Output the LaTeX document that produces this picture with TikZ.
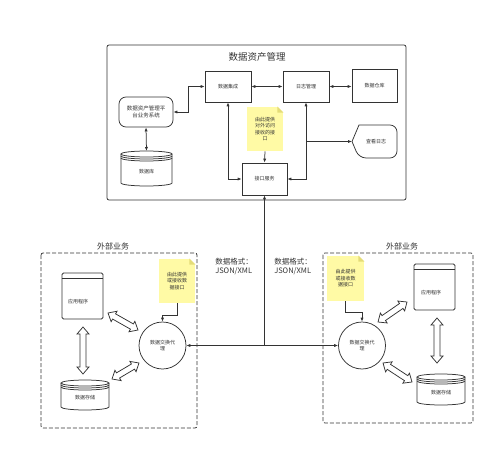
\documentclass[tikz,border=0pt]{standalone}
\usepackage{fontspec}
\setmainfont{Noto Sans CJK SC}
\usetikzlibrary{arrows.meta,calc}
\definecolor{ink}{RGB}{51,51,51}
\definecolor{notefill}{RGB}{255,250,165}
\definecolor{notefold}{RGB}{228,220,120}

% stacked disk: name, centre x, top y, half width, height, text
\newcommand\diskstack[6]{%
  \draw[fill=white] (#2-#4,#3) -- (#2-#4,#3+#5)
    arc[start angle=180,end angle=360,x radius=#4pt,y radius=3pt] -- (#2+#4,#3);
  \draw[fill=white] (#2,#3) ellipse[x radius=#4pt,y radius=3pt];
  \foreach \k in {2,4}
    \draw (#2-#4,#3+\k) arc[start angle=180,end angle=360,x radius=#4pt,y radius=3pt];
  \coordinate (#1-top) at (#2,#3-3);
  \node[lbl] (#1) at (#2,#3+#5/2+3) {#6};}

% hollow double arrow between two named points
\newcommand\fatarrow[2]{%
  \draw[fill=white] let \p1=(#1), \p2=(#2), \n1={atan2(\y2-\y1,\x2-\x1)} in
    (\p1) -- ($(\p1)+(\n1:7pt)+(\n1+90:6pt)$) -- ($(\p1)+(\n1:7pt)+(\n1+90:3pt)$)
    -- ($(\p2)+(\n1:-7pt)+(\n1+90:3pt)$) -- ($(\p2)+(\n1:-7pt)+(\n1+90:6pt)$) -- (\p2)
    -- ($(\p2)+(\n1:-7pt)+(\n1-90:6pt)$) -- ($(\p2)+(\n1:-7pt)+(\n1-90:3pt)$)
    -- ($(\p1)+(\n1:7pt)+(\n1-90:3pt)$) -- ($(\p1)+(\n1:7pt)+(\n1-90:6pt)$) -- cycle;}

% folded corner of a note
\newcommand\notefold[1]{%
  \fill[white] (#1.north east) -- ++(-6,0) -- ++(6,6) -- cycle;
  \fill[notefold] ($(#1.north east)+(-6,0)$) -- ++(0,6) -- ++(6,0) -- cycle;}

\begin{document}
\begin{tikzpicture}[x=1pt,y=-1pt,color=ink,line width=0.75pt,
  >={Latex[length=4pt,width=3.2pt]},
  lbl/.style={font=\fontsize{5}{6.5}\selectfont,align=center,inner sep=0pt},
  box/.style={draw,fill=white,minimum width=46pt,minimum height=31pt,
    font=\fontsize{5}{6.5}\selectfont,align=center},
  note/.style={fill=notefill,align=center,inner sep=0pt,
    font=\fontsize{5}{6.5}\selectfont},
  agent/.style={draw,circle,minimum size=47pt,inner sep=0pt,align=center,
    font=\fontsize{5}{6.5}\selectfont},
  zone/.style={draw,dash pattern=on 4pt off 2pt,rounded corners=2pt},
  fmt/.style={font=\fontsize{7.5}{9}\selectfont,align=left,inner sep=0pt},
  head/.style={font=\fontsize{8}{9}\selectfont}]
\useasboundingbox (0,0) rectangle (500,457);

% core system
\draw[rounded corners=2pt] (107,45) rectangle (406,200);
\node[font=\fontsize{9.5}{11}\selectfont] (title) at (257,57) {数据资产管理};
\node[box] (jicheng) at (228,86.5) {数据集成};
\node[box] (rizhi) at (306,86.5) {日志管理};
\node[box,minimum width=45pt,minimum height=33pt] (cangku) at (374.5,85.5) {数据仓库};
\node[box,rounded corners=7pt,minimum width=54pt,minimum height=30pt,
  font=\fontsize{5.5}{7}\selectfont] (pingtai) at (146,112) {数据资产管理平\\台业务系统};
\diskstack{db}{146.5}{154}{25.5}{29}{数据库}
\node[note,minimum width=36pt,minimum height=44pt] (memo) at (265,129) {由此提供\\对外访问\\接收的接\\口};
\notefold{memo}
\node[box,minimum width=45pt,minimum height=32pt] (jiekou) at (264.5,179) {接口服务};
\draw[fill=white] (352,141.5) -- (359,125) {[rounded corners=7pt] -- (397,125) -- (397,158) -- (359,158)} -- cycle;
\coordinate (chakan-tip) at (352,141.5);
\node[lbl] (chakan) at (376,141.5) {查看日志};

\draw[<->] (jicheng.west) -- ++(-16,0) |- (pingtai.east);
\draw[<->] (pingtai.south) -- (db-top);
\draw[<->] (jicheng.east) -- (rizhi.west);
\draw[<->] (rizhi.east) -- (rizhi.east -| cangku.west);
\draw[<->] (jicheng.south) |- (jiekou.west);
\draw[<->] (rizhi.south) |- (jiekou.east);
\draw[->] (rizhi.south |- chakan-tip) -- (chakan-tip);
\draw[->] (memo.south) -- (jiekou.north);

% left partner
\draw[zone] (41,253) rectangle (197,428);
\node[head] (zoneL) at (113,246) {外部业务};
\node[box,rounded corners=1.5pt,minimum width=41pt,minimum height=46pt] (appL) at (82.5,296) {};
\draw ($(appL.north west)+(0,6)$) -- ($(appL.north east)+(0,6)$);
\node[lbl] (appL-text) at (78,302) {应用程序};
\diskstack{stL}{85}{383}{24}{24}{数据存储}
\node[agent] (agentL) at (162.5,345.5) {数据交换代\\理};
\node[note,minimum width=36pt,minimum height=44pt] (memoL) at (177,281) {由此提供\\或接收数\\据接口};
\notefold{memoL}
\draw[->] (memoL.south) -- ++(0,12) -| (agentL.north);
\coordinate (aL1) at (83,327);
\coordinate (aL2) at (83,374);
\coordinate (aL3) at (108,313);
\coordinate (aL4) at (138,330);
\coordinate (aL5) at (112,379);
\coordinate (aL6) at (139,363);
\fatarrow{aL1}{aL2}
\fatarrow{aL3}{aL4}
\fatarrow{aL5}{aL6}

% right partner
\draw[zone] (323,253) rectangle (473,423);
\node[head] (zoneR) at (402,246) {外部业务};
\node[box,rounded corners=1.5pt,minimum width=41pt,minimum height=46pt] (appR) at (434.5,287) {};
\draw ($(appR.north west)+(0,6)$) -- ($(appR.north east)+(0,6)$);
\node[lbl] (appR-text) at (431,293) {应用程序};
\diskstack{stR}{441}{377}{24}{25}{数据存储}
\node[agent] (agentR) at (362,345.5) {数据交换代\\理};
\node[note,minimum width=37pt,minimum height=45pt] (memoR) at (345.5,278.5) {由此提供\\或接收数\\据接口};
\notefold{memoR}
\draw[->] (memoR.south) -- ++(0,11) -| (agentR.north);
\coordinate (aR1) at (378,322);
\coordinate (aR2) at (407,302);
\coordinate (aR3) at (437,318);
\coordinate (aR4) at (437,363);
\coordinate (aR5) at (383,363);
\coordinate (aR6) at (412,382);
\fatarrow{aR1}{aR2}
\fatarrow{aR3}{aR4}
\fatarrow{aR5}{aR6}

% exchange line
\draw[<-] (jiekou.south) -- (jiekou.south |- agentL.east) coordinate (hub);
\draw[->] (hub) -- (agentL.east);
\draw[->] (hub) -- (agentR.west);
\node[fmt] (fmtL) at (234,266.5) {数据格式：\\JSON/XML};
\node[fmt] (fmtR) at (293,266.5) {数据格式：\\JSON/XML};
\end{tikzpicture}
\end{document}
